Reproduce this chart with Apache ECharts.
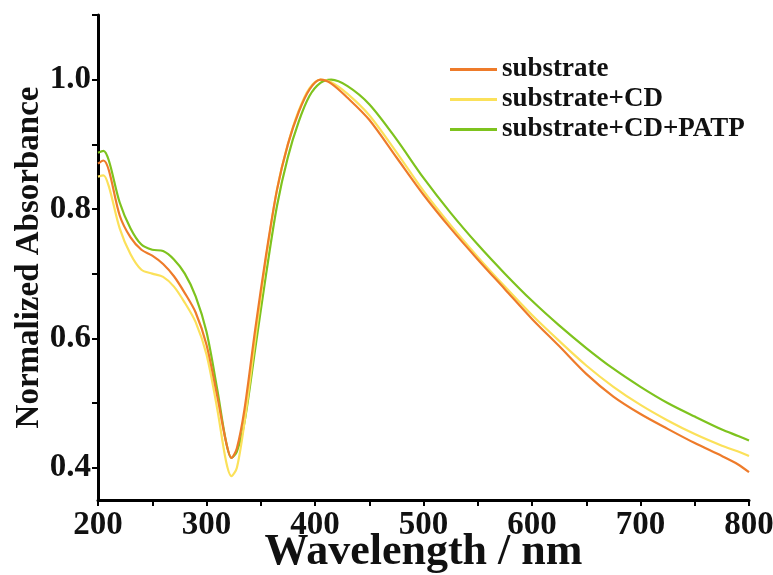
<!DOCTYPE html>
<html>
<head>
<meta charset="utf-8">
<script src="https://cdn.jsdelivr.net/npm/echarts@6/dist/echarts.min.js"></script>
<style>
  html, body { margin: 0; padding: 0; background: #fff; }
  #chart { width: 773px; height: 575px; }
</style>
</head>
<body>
<div id="chart"></div>
<script>
// wavelength (nm)
var wavelength = [200, 205, 210, 220, 230, 240, 250, 260, 270, 280, 290, 300, 310, 318, 323, 328, 335, 345, 355, 365, 375, 385, 395, 405, 415, 430, 450, 475, 500, 525, 550, 575, 600, 625, 650, 675, 700, 725, 750, 775, 790, 800];

// normalized absorbance
var substrate = [0.870, 0.875, 0.860, 0.790, 0.756, 0.737, 0.728, 0.715, 0.696, 0.670, 0.640, 0.590, 0.510, 0.440, 0.415, 0.430, 0.490, 0.615, 0.730, 0.830, 0.900, 0.950, 0.985, 1.000, 0.994, 0.972, 0.938, 0.880, 0.822, 0.770, 0.722, 0.676, 0.630, 0.588, 0.545, 0.510, 0.483, 0.460, 0.438, 0.418, 0.405, 0.393];
var substrateCD = [0.850, 0.852, 0.835, 0.770, 0.730, 0.706, 0.700, 0.695, 0.680, 0.655, 0.625, 0.575, 0.490, 0.410, 0.387, 0.400, 0.470, 0.600, 0.725, 0.830, 0.900, 0.952, 0.987, 1.000, 0.996, 0.978, 0.945, 0.888, 0.828, 0.775, 0.726, 0.680, 0.636, 0.596, 0.558, 0.525, 0.497, 0.473, 0.452, 0.434, 0.425, 0.418];
var substrateCDPATP = [0.887, 0.890, 0.875, 0.810, 0.770, 0.745, 0.737, 0.735, 0.722, 0.700, 0.665, 0.610, 0.520, 0.440, 0.415, 0.425, 0.470, 0.585, 0.700, 0.805, 0.880, 0.935, 0.975, 0.995, 1.000, 0.990, 0.962, 0.908, 0.848, 0.794, 0.745, 0.700, 0.658, 0.620, 0.585, 0.553, 0.525, 0.500, 0.479, 0.459, 0.449, 0.442];

var seriesNames = ["substrate", "substrate+CD", "substrate+CD+PATP"];
var seriesColors = ["#EE7B2A", "#FBE15A", "#7EC31E"];

var xTicks = [200, 250, 300, 350, 400, 450, 500, 550, 600, 650, 700, 750, 800];
var xLabels = [200, 300, 400, 500, 600, 700, 800];
var yTicks = [0.4, 0.5, 0.6, 0.7, 0.8, 0.9, 1.0, 1.1];
var yLabels = [0.4, 0.6, 0.8, 1.0];

function pairs(ys) {
  return wavelength.map(function (x, i) { return [x, ys[i]]; });
}

var chart = echarts.init(document.getElementById("chart"));
var font = "'Liberation Serif', 'Times New Roman', serif";

var option = {
  animation: false,
  grid: { left: 98, right: 24, top: 15, bottom: 75, containLabel: false, outerBoundsMode: "none" },
  legend: {
    orient: "vertical",
    left: 445,
    top: 51,
    itemWidth: 47,
    itemHeight: 3,
    itemGap: 3,
    icon: "rect",
    textStyle: { fontFamily: font, fontWeight: "bold", fontSize: 27, color: "#111" },
    data: seriesNames
  },
  xAxis: {
    type: "value",
    min: 200,
    max: 800,
    name: "Wavelength / nm",
    nameLocation: "middle",
    nameGap: 31,
    nameMoveOverlap: false,
    nameTextStyle: { fontFamily: font, fontWeight: "bold", fontSize: 44, color: "#111" },
    axisLine: { lineStyle: { color: "#000", width: 3 } },
    axisTick: { customValues: xTicks, length: 6, lineStyle: { color: "#000", width: 2 } },
    axisLabel: {
      customValues: xLabels,
      margin: 9,
      fontFamily: font, fontWeight: "bold", fontSize: 33, color: "#111"
    },
    splitLine: { show: false }
  },
  yAxis: {
    type: "value",
    min: 0.35,
    max: 1.1,
    name: "Normalized Absorbance",
    nameLocation: "middle",
    nameRotate: 90,
    nameGap: 52,
    nameMoveOverlap: false,
    nameTextStyle: { fontFamily: font, fontWeight: "bold", fontSize: 33, color: "#111" },
    axisLine: { show: true, lineStyle: { color: "#000", width: 3 } },
    axisTick: { show: true, customValues: yTicks, length: 6, lineStyle: { color: "#000", width: 2 } },
    axisLabel: {
      customValues: yLabels,
      margin: 7,
      formatter: function (v) { return v.toFixed(1); },
      fontFamily: font, fontWeight: "bold", fontSize: 33, color: "#111"
    },
    splitLine: { show: false }
  },
  series: [substrate, substrateCD, substrateCDPATP].map(function (ys, i) {
    return {
      name: seriesNames[i],
      type: "line",
      data: pairs(ys),
      smooth: 0.3,
      showSymbol: false,
      color: seriesColors[i],
      lineStyle: { width: 2.2, color: seriesColors[i] },
      z: 3 - i
    };
  })
};

chart.setOption(option);
</script>
</body>
</html>
